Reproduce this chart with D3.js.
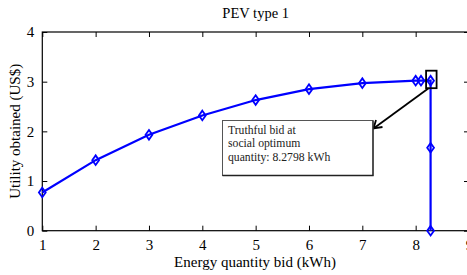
<!DOCTYPE html>
<html><head><meta charset="utf-8">
<script src="https://cdn.jsdelivr.net/npm/d3@7"></script>
<style>body{margin:0;background:#fff}svg{display:block}</style>
</head><body>
<svg id="c" width="467" height="275" font-family="Liberation Serif, Times New Roman, Times, DejaVu Serif, serif"></svg>
<script>
const xValues = [1, 2, 3, 4, 5, 6, 7, 8, 8.1, 8.2798, 8.2798, 8.2798];
const utility = [0.77, 1.42, 1.93, 2.32, 2.63, 2.85, 2.97, 3.02, 3.02, 3.02, 1.67, 0];
const xTicks = [1, 2, 3, 4, 5, 6, 7, 8, 9];
const yTicks = [0, 1, 2, 3, 4];
const optimum = {x: 8.2798, y: 3.02};
const annotationLines = ["Truthful bid at", "social optimum", "quantity: 8.2798 kWh"];

const FONT = "Liberation Serif, Times New Roman, Times, DejaVu Serif, serif";
const svg = d3.select("#c");
const L = 42.3, R = 469, T = 32, B = 230.7;
const x = d3.scaleLinear().domain([1, 9]).range([L, R]);
const y = d3.scaleLinear().domain([0, 4]).range([B, T]);

svg.append("rect").attr("x", L).attr("y", T).attr("width", R - L).attr("height", B - T)
  .attr("fill", "none").attr("stroke", "#000").attr("stroke-width", 1.2);

const tl = 5;
const gx = svg.append("g").attr("transform", `translate(0,${B})`)
  .call(d3.axisBottom(x).tickValues(xTicks).tickSize(-tl).tickPadding(9).tickFormat(d3.format("d")));
const gxt = svg.append("g").attr("transform", `translate(0,${T})`)
  .call(d3.axisTop(x).tickValues(xTicks).tickSize(-tl).tickFormat(""));
const gy = svg.append("g").attr("transform", `translate(${L},0)`)
  .call(d3.axisLeft(y).tickValues(yTicks).tickSize(-tl).tickPadding(8).tickFormat(d3.format("d")));
const gyr = svg.append("g").attr("transform", `translate(${R},0)`)
  .call(d3.axisRight(y).tickValues(yTicks).tickSize(-tl).tickFormat(""));
[gx, gxt, gy, gyr].forEach(g => {
  g.attr("font-family", FONT).attr("font-size", 15);
  g.select(".domain").remove();
  g.selectAll("line").attr("stroke", "#000").attr("stroke-width", 1);
  g.selectAll("text").attr("fill", "#000");
});

const pts = xValues.map((v, i) => [v, utility[i]]);
svg.append("path").datum(pts)
  .attr("d", d3.line().x(d => x(d[0])).y(d => y(d[1])))
  .attr("fill", "none").attr("stroke", "#0000ff").attr("stroke-width", 2.2);

svg.append("g").selectAll("path").data(pts).join("path")
  .attr("transform", d => `translate(${x(d[0])},${y(d[1])})`)
  .attr("d", "M0,-4.8L3.4,0L0,4.8L-3.4,0Z")
  .attr("fill", "none").attr("stroke", "#0000ff").attr("stroke-width", 1.8);

const ox = x(optimum.x), oy = y(optimum.y);
svg.append("rect").attr("x", ox - 4.5).attr("y", oy - 10).attr("width", 10.5).attr("height", 17.5)
  .attr("fill", "none").attr("stroke", "#000").attr("stroke-width", 1.8);

svg.append("line").attr("x1", ox - 2).attr("y1", oy + 7.5).attr("x2", 373.5).attr("y2", 128.5)
  .attr("stroke", "#000").attr("stroke-width", 1.8);
svg.append("path").attr("d", `M${373.5 + 9},${128.5 - 1.5}L373.5,128.5L${373.5 + 2.5},${128.5 - 8.5}`)
  .attr("fill", "none").attr("stroke", "#000").attr("stroke-width", 1.8);

const bx = 222.5, by = 120.5, bw = 150.5, bh = 55;
svg.append("rect").attr("x", bx).attr("y", by).attr("width", bw).attr("height", bh)
  .attr("fill", "#fff").attr("stroke", "#555").attr("stroke-width", 1);
svg.append("path").attr("d", `M${bx + bw},${by}V${by + bh}H${bx}`)
  .attr("fill", "none").attr("stroke", "#222").attr("stroke-width", 1.3);
svg.append("g").selectAll("text").data(annotationLines).join("text")
  .attr("x", bx + 5.5).attr("y", (d, i) => by + 13.5 + i * 13.4)
  .attr("font-size", 11.7).attr("fill", "#222").text(d => d);

svg.append("text").attr("x", (L + R) / 2).attr("y", 18).attr("text-anchor", "middle")
  .attr("font-size", 14.5).text("PEV type 1");
svg.append("text").attr("x", 255).attr("y", 267).attr("text-anchor", "middle")
  .attr("font-size", 15).text("Energy quantity bid (kWh)");
svg.append("text").attr("transform", `translate(20,${(T + B) / 2}) rotate(-90)`).attr("text-anchor", "middle")
  .attr("font-size", 15).text("Utility obtained (US$)");
</script>
</body></html>
